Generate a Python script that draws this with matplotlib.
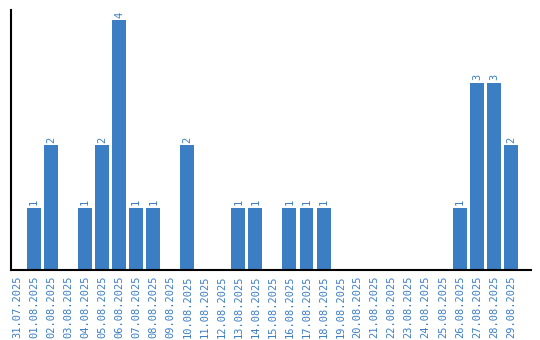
import matplotlib
matplotlib.use("Agg")
import matplotlib.pyplot as plt

dates = ["31.07.2025", "01.08.2025", "02.08.2025", "03.08.2025", "04.08.2025",
         "05.08.2025", "06.08.2025", "07.08.2025", "08.08.2025", "09.08.2025",
         "10.08.2025", "11.08.2025", "12.08.2025", "13.08.2025", "14.08.2025",
         "15.08.2025", "16.08.2025", "17.08.2025", "18.08.2025", "19.08.2025",
         "20.08.2025", "21.08.2025", "22.08.2025", "23.08.2025", "24.08.2025",
         "25.08.2025", "26.08.2025", "27.08.2025", "28.08.2025", "29.08.2025"]
counts = [0, 1, 2, 0, 1, 2, 4, 1, 1, 0, 2, 0, 0, 1, 1, 0, 1, 1, 1, 0,
          0, 0, 0, 0, 0, 0, 1, 3, 3, 2]

blue = "#3b7ec3"
fig = plt.figure(figsize=(5.4, 3.4), dpi=100)
ax = fig.add_axes([11/540, 70/340, 520/540, 260/340])
x = list(range(len(dates)))
bars = ax.bar(x, counts, width=0.82, color=blue)
for xi, v in zip(x, counts):
    if v > 0:
        ax.text(xi, v + 0.04, str(v), rotation=90, ha="center", va="bottom",
                color=blue, family="DejaVu Sans Mono", fontsize=7.5)
ax.set_xlim(-0.35, 30.18)
ax.set_ylim(0, 4.16)
ax.set_xticks(x)
ax.set_xticklabels(dates, rotation=90, color=blue, family="DejaVu Sans Mono", fontsize=7.5)
ax.tick_params(axis="x", length=0, pad=4)
ax.set_yticks([])
for s in ["top", "right"]:
    ax.spines[s].set_visible(False)
for s in ["left", "bottom"]:
    ax.spines[s].set_linewidth(1.5)
    ax.spines[s].set_color("black")
fig.savefig("out.png", dpi=100)
